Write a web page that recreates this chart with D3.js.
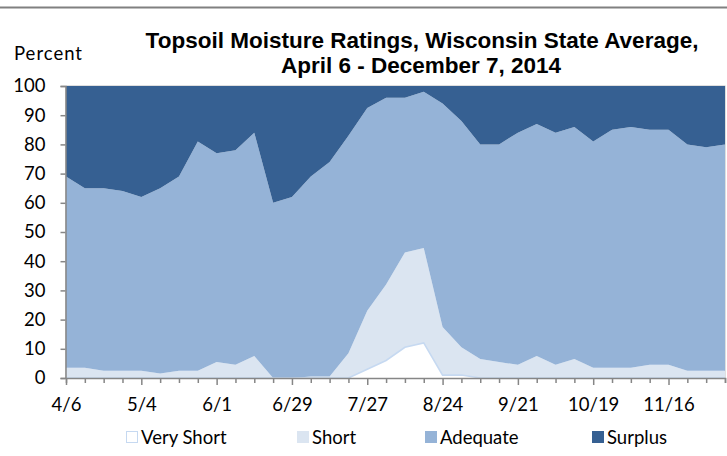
<!DOCTYPE html>
<html>
<head>
<meta charset="utf-8">
<script src="https://cdn.jsdelivr.net/npm/d3@7"></script>
<style>
  html, body { margin: 0; padding: 0; background: #fff; }
  svg { display: block; }
</style>
</head>
<body>
<svg id="chart" width="727" height="456"></svg>
<script>
// ---- Data (weekly, April 6 - December 7, 2014) ----
const dates = ["4/6","4/13","4/20","4/27","5/4","5/11","5/18","5/25","6/1","6/8","6/15","6/22",
  "6/29","7/6","7/13","7/20","7/27","8/3","8/10","8/17","8/24","8/31","9/7","9/14",
  "9/21","9/28","10/5","10/12","10/19","10/26","11/2","11/9","11/16","11/23","11/30","12/7"];
const tickLabels = ["4/6","5/4","6/1","6/29","7/27","8/24","9/21","10/19","11/16"];
const yTicks = [0,10,20,30,40,50,60,70,80,90,100];
const seriesNames = ["Very Short","Short","Adequate","Surplus"];
const veryShort = [0,0,0,0,0,0,0,0,0,0,0,0,0,0,0,0,3,6,10.5,12,1,1,0,0,0,0,0,0,0,0,0,0,0,0,0,0];
const short = [3.5,3.5,2.5,2.5,2.5,1.5,2.5,2.5,5.5,4.5,7.5,0,0,0.5,0.5,8.5,20,26,32.5,32.5,16.5,9.5,
  6.5,5.5,4.5,7.5,4.5,6.5,3.5,3.5,3.5,4.5,4.5,2.5,2.5,2.5];
const adequate = [65.5,61.5,62.5,61.5,59.5,63.5,66.5,78.5,71.5,73.5,76.5,60,62,68.5,73.5,74.5,69.5,64,53,53.5,
  76.5,77.5,73.5,74.5,79.5,79.5,79.5,79.5,77.5,81.5,82.5,80.5,80.5,77.5,76.5,77.5];
const surplus = [31,35,35,36,38,35,31,19,23,22,16,40,38,31,26,17,7.5,4,4,2,6,12,20,20,16,13,16,14,19,15,14,15,15,20,21,20];

const colors = {"Very Short":"#ffffff","Short":"#dbe5f1","Adequate":"#95b3d7","Surplus":"#366092"};

const rows = dates.map((d,i)=>({date:d,"Very Short":veryShort[i],"Short":short[i],"Adequate":adequate[i],"Surplus":surplus[i]}));

const svg = d3.select("#chart");
const labelFont = "Lato, 'Open Sans', sans-serif";

// top rule
svg.append("line").attr("x1",0).attr("x2",727).attr("y1",7.5).attr("y2",7.5)
  .attr("stroke","#808080").attr("stroke-width",2);

const pLeft = 66, pRight = 725, pTop = 86, pBottom = 378;
const x = d3.scalePoint().domain(dates).range([pLeft, pRight]);
const y = d3.scaleLinear().domain([0,100]).range([pBottom, pTop]);

const stacked = d3.stack().keys(seriesNames)(rows);
const area = d3.area().x(d=>x(d.data.date)).y0(d=>y(d[0])).y1(d=>y(d[1]));

// plot border
svg.append("rect").attr("x",pLeft).attr("y",pTop).attr("width",pRight-pLeft).attr("height",pBottom-pTop)
  .attr("fill","none").attr("stroke","#c0c0c0").attr("stroke-width",1);

svg.append("g").selectAll("path").data(stacked).join("path")
  .attr("d",area).attr("fill",d=>colors[d.key]);

// very short outline
const vsLine = d3.line().x(d=>x(d.data.date)).y(d=>y(d[1]));
svg.append("path").datum(stacked[0]).attr("d",vsLine)
  .attr("fill","none").attr("stroke","#c6d9f1").attr("stroke-width",1.6);

// y axis
const yAxis = d3.axisLeft(y).tickValues(yTicks).tickSize(5).tickFormat(d3.format("d"));
const gy = svg.append("g").attr("transform",`translate(${pLeft-0.5},0)`).call(yAxis);
gy.select(".domain").attr("stroke","#868686").attr("stroke-width",1.5);
gy.selectAll(".tick line").attr("stroke","#868686").attr("stroke-width",1.5);
gy.selectAll(".tick text").attr("x",-20).attr("font-family",labelFont).attr("font-size",18.5).attr("fill","#000");

// x axis
const xAxis = d3.axisBottom(x).tickSize(5).tickFormat(d=>tickLabels.includes(d)?d:"");
const gx = svg.append("g").attr("transform",`translate(0,${pBottom})`).call(xAxis);
gx.select(".domain").attr("stroke","#868686").attr("stroke-width",1.5);
gx.selectAll(".tick line").attr("stroke","#868686").attr("stroke-width",1.5)
  .attr("y2",d=>tickLabels.includes(d)?7:5);
gx.selectAll(".tick text").attr("y",20).attr("font-family",labelFont).attr("font-size",18.5).attr("fill","#000");

// titles
const titleFont = "'Liberation Sans', Arial, sans-serif";
svg.append("text").attr("x",422).attr("y",48).attr("text-anchor","middle")
  .attr("font-family",titleFont).attr("font-weight","bold").attr("font-size",22.5)
  .text("Topsoil Moisture Ratings, Wisconsin State Average,");
svg.append("text").attr("x",421).attr("y",73).attr("text-anchor","middle")
  .attr("font-family",titleFont).attr("font-weight","bold").attr("font-size",22.5)
  .text("April 6 - December 7, 2014");
svg.append("text").attr("x",14).attr("y",60).attr("font-family",labelFont).attr("font-size",18.5)
  .attr("letter-spacing",1).text("Percent");

// legend
const legendX = [126, 297, 425, 592];
const lg = svg.append("g");
seriesNames.forEach((s,i)=>{
  lg.append("rect").attr("x",legendX[i]+0.5).attr("y",431.5).attr("width",11).attr("height",11)
    .attr("fill",colors[s]).attr("stroke", s==="Very Short" ? "#c6d9f1" : colors[s]).attr("stroke-width",1);
  lg.append("text").attr("x",legendX[i]+15).attr("y",444).attr("font-family",labelFont).attr("font-size",18.5)
    .text(s);
});
</script>
</body>
</html>
